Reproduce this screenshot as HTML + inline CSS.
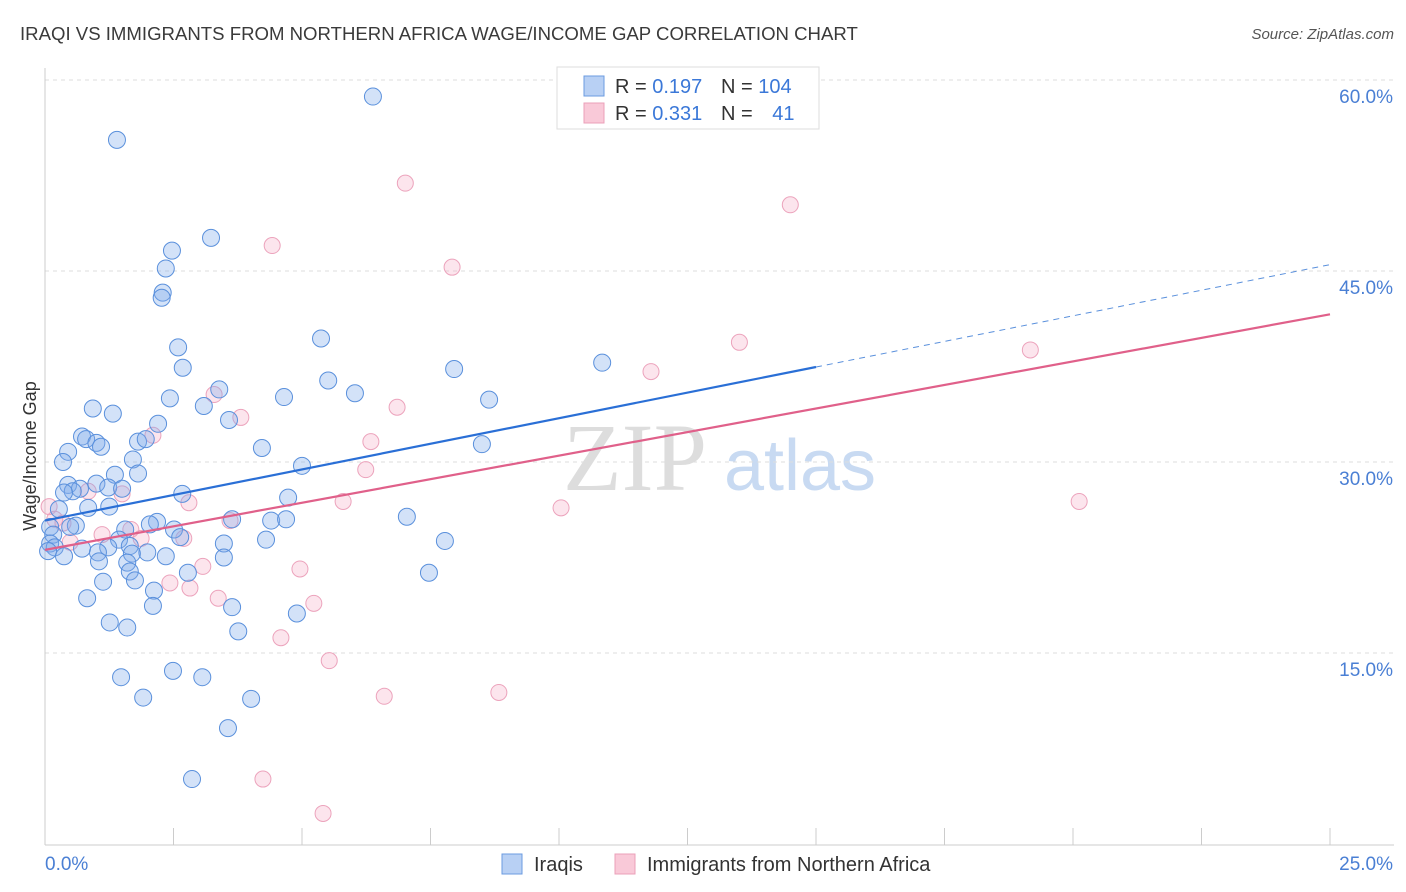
<!DOCTYPE html>
<html><head><meta charset="utf-8">
<style>
body{margin:0;background:#fff;font-family:"Liberation Sans",sans-serif;}
#wrap{position:relative;width:1406px;height:892px;overflow:hidden;}
svg text{font-family:"Liberation Sans",sans-serif;}
</style></head>
<body>
<div id="wrap">
<svg id="chart" width="1406" height="892">
<text x="20" y="40" font-size="18.6" fill="#3a3a3a">IRAQI VS IMMIGRANTS FROM NORTHERN AFRICA WAGE/INCOME GAP CORRELATION CHART</text>
<text x="1394" y="39" font-size="15" fill="#555" text-anchor="end" font-style="italic">Source: ZipAtlas.com</text>
<text x="36" y="456" font-size="18" fill="#333" text-anchor="middle" transform="rotate(-90 36 456)">Wage/Income Gap</text>
<g>
<text x="635" y="490" font-size="96" fill="#ddd" text-anchor="middle" font-family="Liberation Serif" style="font-family:'Liberation Serif',serif">ZIP</text>
<text x="800" y="490" font-size="72" fill="#c8daf2" text-anchor="middle">atlas</text>
</g>
<g id="grid"></g>
<g id="axes"></g>
<g id="points"></g>
<g id="lines"></g>
<g>
<rect x="557" y="67" width="262" height="62" fill="#fff" stroke="#ddd"/>
<rect x="584" y="76" width="20" height="20" fill="#b8d0f4" stroke="#6b9be0"/>
<rect x="584" y="103" width="20" height="20" fill="#f9c9d8" stroke="#eba0b9"/>
<text x="615" y="93" font-size="20" fill="#333">R = <tspan fill="#3b78d8">0.197</tspan></text>
<text x="721" y="93" font-size="20" fill="#333">N = <tspan fill="#3b78d8">104</tspan></text>
<text x="615" y="120" font-size="20" fill="#333">R = <tspan fill="#3b78d8">0.331</tspan></text>
<text x="721" y="120" font-size="20" fill="#333">N = <tspan fill="#3b78d8" dx="14">41</tspan></text>
</g>
<g>
<rect x="502" y="854" width="20" height="20" fill="#b8d0f4" stroke="#6b9be0"/>
<text x="534" y="871" font-size="20" fill="#333">Iraqis</text>
<rect x="615" y="854" width="20" height="20" fill="#f9c9d8" stroke="#eba0b9"/>
<text x="647" y="871" font-size="20" fill="#333">Immigrants from Northern Africa</text>
</g>
</svg>
</div>
<script>
const xTicks=[0,2.5,5,7.5,10,12.5,15,17.5,20,22.5,25];
const yTicks=[15,30,45,60];
const yTickLabels=["15.0%","30.0%","45.0%","60.0%"];
const xEndLabels=["0.0%","25.0%"];
const iraqiX=[6.38,1.40,3.23,2.47,2.35,2.29,2.27,5.37,2.59,2.68,7.96,10.84,5.51,3.39,6.03,2.43,4.65,8.64,3.09,0.93,1.32,3.58,2.20,0.72,0.80,1.81,1.96,1.00,1.09,4.22,8.50,0.45,0.35,1.71,5.00,1.36,1.81,0.45,1.00,0.68,0.54,1.23,0.37,1.50,2.67,4.73,0.27,0.84,1.25,7.04,3.64,4.40,4.69,2.18,2.04,0.60,0.49,1.56,0.10,0.16,2.51,2.63,1.44,4.30,7.78,3.48,0.10,1.65,0.72,1.23,0.19,1.99,1.03,1.69,2.35,0.06,0.37,3.48,1.05,1.60,1.65,2.78,7.47,1.13,1.75,2.12,0.82,2.10,3.64,4.90,1.26,1.60,3.76,1.48,2.49,3.06,1.91,4.01,3.56,2.86];
const iraqiY=[58.7,55.3,47.6,46.6,45.2,43.3,42.9,39.7,39.0,37.4,37.3,37.8,36.4,35.7,35.4,35.0,35.1,34.9,34.4,34.2,33.8,33.3,33.0,32.0,31.8,31.6,31.8,31.5,31.2,31.1,31.4,30.8,30.0,30.2,29.7,29.0,29.1,28.2,28.3,27.9,27.7,28.0,27.6,27.9,27.5,27.2,26.3,26.4,26.5,25.7,25.5,25.4,25.5,25.3,25.1,25.0,24.9,24.7,24.9,24.3,24.7,24.1,23.9,23.9,23.8,23.6,23.6,23.4,23.2,23.3,23.3,22.9,22.9,22.8,22.6,23.0,22.6,22.5,22.2,22.1,21.4,21.3,21.3,20.6,20.7,19.9,19.3,18.7,18.6,18.1,17.4,17.0,16.7,13.1,13.6,13.1,11.5,11.4,9.1,5.1];
const nafX=[7.01,14.50,4.42,7.92,13.51,19.17,11.79,3.29,3.81,6.85,2.10,6.34,6.24,1.50,0.84,2.80,5.80,10.04,20.12,0.08,0.19,0.35,3.60,1.67,1.11,2.70,1.87,0.49,3.07,4.96,2.43,2.82,3.37,5.23,4.59,5.53,6.60,8.83,4.24,5.41];
const nafY=[51.9,50.2,47.0,45.3,39.4,38.8,37.1,35.3,33.5,34.3,32.1,31.6,29.4,27.5,27.7,26.8,26.9,26.4,26.9,26.5,25.5,25.2,25.4,24.7,24.3,24.0,24.0,23.7,21.8,21.6,20.5,20.1,19.3,18.9,16.2,14.4,11.6,11.9,5.1,2.4];
const iraqiTrend=[25.4,45.5];
const nafTrend=[23.1,41.6];
const iraqiSolidEnd=15.0;

const X0=45,X1=1330,Y0=844,YPER=191/15;
const sx=v=>X0+(v/25)*(X1-X0);
const sy=v=>Y0-v*YPER;
const NS="http://www.w3.org/2000/svg";
function mk(tag,attrs,parent){const e=document.createElementNS(NS,tag);for(const k in attrs)e.setAttribute(k,attrs[k]);parent.appendChild(e);return e;}
const grid=document.getElementById('grid'),axes=document.getElementById('axes'),pts=document.getElementById('points'),lines=document.getElementById('lines');
yTicks.forEach((t,i)=>{
  const l=mk('line',{x1:X0,x2:1394,y1:sy(t),y2:sy(t),stroke:'#ddd','stroke-dasharray':'4,4'},grid);
  
  
  const tx=mk('text',{x:1393,y:sy(t)+23,'font-size':19,fill:'#4a7fd4','text-anchor':'end'},axes);
  tx.textContent=yTickLabels[i];
  
  
});
const ax=mk('line',{x1:X0,x2:1394,y1:845,y2:845,stroke:'#ccc'},axes);


const ay=mk('line',{x1:X0,x2:X0,y1:68,y2:845,stroke:'#ccc'},axes);


xTicks.forEach(t=>{
  const l=mk('line',{x1:sx(t),x2:sx(t),y1:828,y2:845,stroke:'#ccc'},axes);
  
  
});
const xl0=mk('text',{x:45,y:870,'font-size':19,fill:'#4a7fd4'},axes);xl0.textContent=xEndLabels[0];


const xl1=mk('text',{x:1393,y:870,'font-size':19,fill:'#4a7fd4','text-anchor':'end'},axes);xl1.textContent=xEndLabels[1];


nafX.forEach((x,i)=>{
  const c=mk('circle',{cx:sx(x),cy:sy(nafY[i]),r:8,fill:'rgba(244,170,196,0.3)',stroke:'#eca3bc','stroke-width':1},pts);
  
  
});
iraqiX.forEach((x,i)=>{
  const c=mk('circle',{cx:sx(x),cy:sy(iraqiY[i]),r:8.5,fill:'rgba(130,172,235,0.35)',stroke:'#5a90dc','stroke-width':1},pts);
  
  
});
const f=(tr,x)=>tr[0]+(tr[1]-tr[0])*x/25;
const b1=mk('line',{x1:sx(0),y1:sy(iraqiTrend[0]),x2:sx(iraqiSolidEnd),y2:sy(f(iraqiTrend,iraqiSolidEnd)),stroke:'#2a6fd6','stroke-width':2.2},lines);


const b2=mk('line',{x1:sx(iraqiSolidEnd),y1:sy(f(iraqiTrend,iraqiSolidEnd)),x2:sx(25),y2:sy(iraqiTrend[1]),stroke:'#5a90dc','stroke-width':1,'stroke-dasharray':'6,5'},lines);


const p1=mk('line',{x1:sx(0),y1:sy(nafTrend[0]),x2:sx(25),y2:sy(nafTrend[1]),stroke:'#e0608a','stroke-width':2.2},lines);


</script>
</body></html>
